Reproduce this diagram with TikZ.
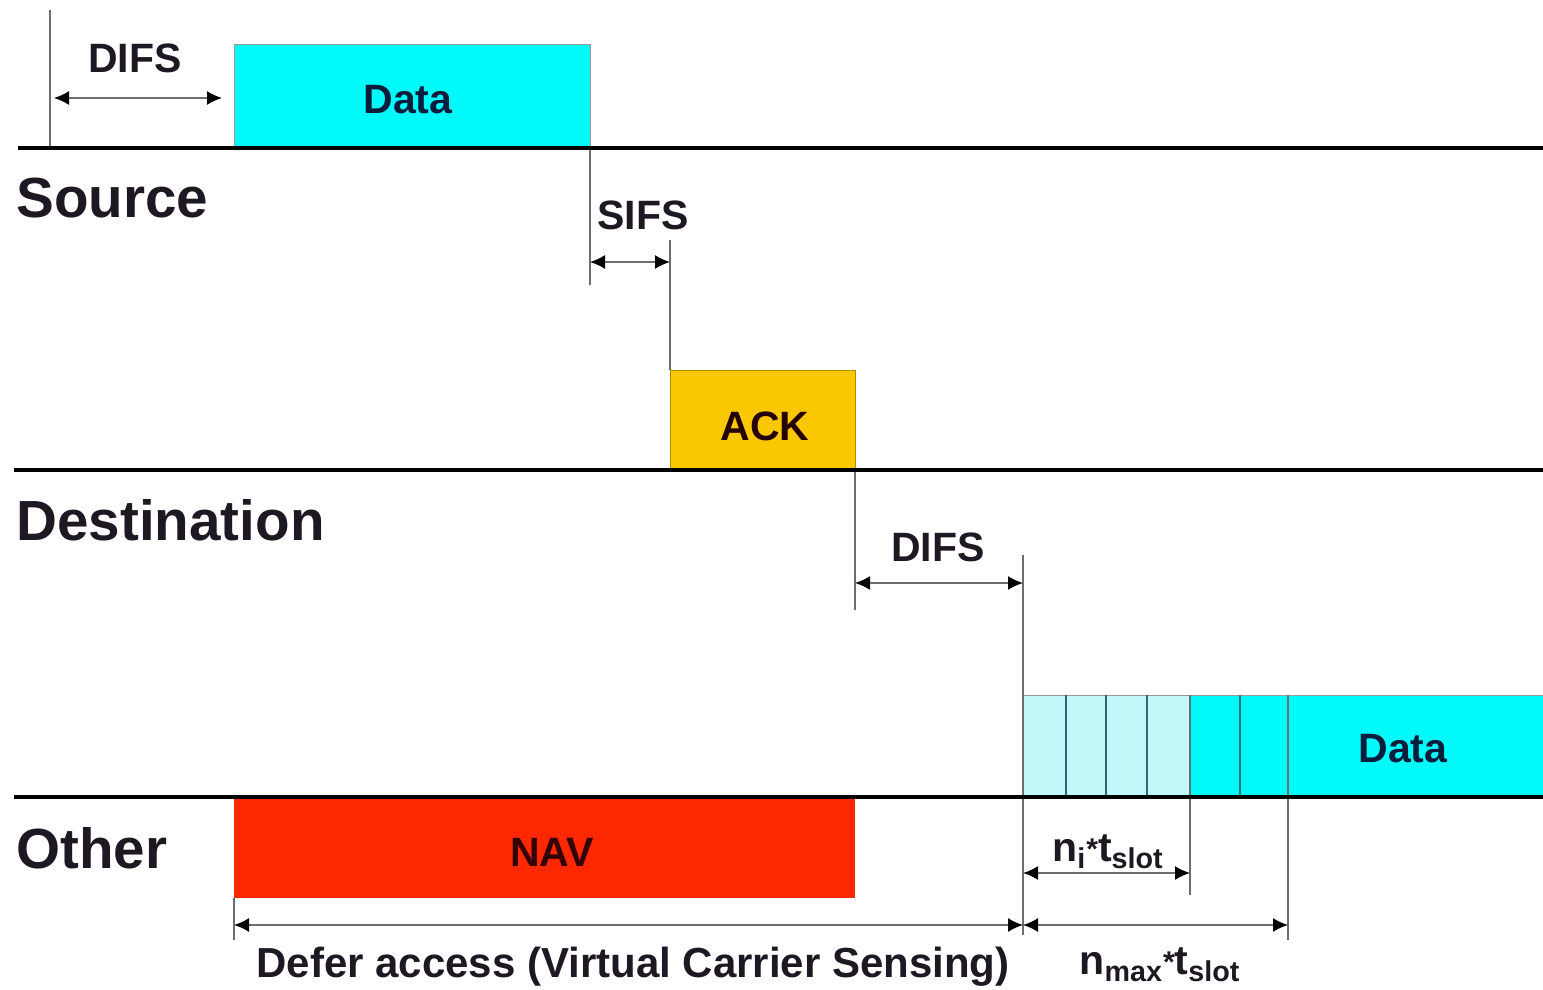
\documentclass[tikz,border=0pt]{standalone}
\usepackage{fontspec}
\setmainfont{Liberation Sans}
\usetikzlibrary{arrows.meta}
\definecolor{txt}{RGB}{30,24,34}
\definecolor{navytxt}{RGB}{10,30,60}
\definecolor{cyanfill}{RGB}{0,250,250}
\definecolor{lightcyan}{RGB}{195,248,250}
\definecolor{slotline}{RGB}{40,110,120}
\definecolor{ackfill}{RGB}{250,200,0}
\definecolor{navfill}{RGB}{255,40,0}
\definecolor{tick}{RGB}{110,110,110}
\newcommand{\slotstar}{\raisebox{0.1ex}{\fontsize{15}{15}\selectfont *}}
\tikzset{
  timeline/.style={line width=2pt, black},
  ticks/.style={line width=0.7pt, tick},
  span/.style={line width=0.8pt, tick, {Latex[length=7.5pt,width=7pt,black]}-{Latex[length=7.5pt,width=7pt,black]}},
  small/.style={font=\fontsize{20.5}{24}\selectfont\bfseries, text=txt, inner sep=0pt},
  station/.style={font=\fontsize{28.3}{33}\selectfont\bfseries, text=txt, inner sep=0pt, anchor=west},
  boxedge/.style={draw=tick!70, line width=0.5pt},
}
\begin{document}
\begin{tikzpicture}[x=0.5pt, y=-0.5pt]
\useasboundingbox (0,0) rectangle (1543,990);

% ---- frames ----
\fill[cyanfill] (234,45) rectangle (590,148);
\draw[boxedge] (234,148) -- (234,45) -- (590,45) -- (590,148);
\node[small, text=navytxt] (data1) at (408,100) {Data};

\fill[ackfill] (670,370) rectangle (855,470);
\draw[draw=ackfill!70!black, line width=0.5pt] (670,470) -- (670,370) -- (855,370) -- (855,470);
\node[small, text=black!85!red] (ack) at (765,426) {ACK};

\fill[navfill] (234,797) rectangle (855,898);
\node[small, text=black!80!red] (nav) at (552,852) {NAV};

% contention window and second data frame
\fill[lightcyan] (1023,695) rectangle (1190,797);
\fill[cyanfill] (1190,695) rectangle (1543,797);
\draw[boxedge] (1023,695) -- (1543,695);
\foreach \sx in {1066,1106,1147,1240}
  \draw[slotline, line width=0.6pt] (\sx,695) -- (\sx,797);
\node[small, text=navytxt] (data2) at (1403,749) {Data};

% ---- vertical markers ----
\coordinate (d1a) at (50,98);   \coordinate (d1b) at (234,98);
\coordinate (s1a) at (590,262); \coordinate (s1b) at (670,262);
\coordinate (d2a) at (855,583); \coordinate (d2b) at (1023,583);
\coordinate (nia) at (1023,873); \coordinate (nib) at (1190,873);
\coordinate (dfa) at (234,925); \coordinate (dfb) at (1023,925);
\coordinate (nma) at (1023,925); \coordinate (nmb) at (1288,925);

\draw[ticks] (50,10) -- (50,148);
\draw[ticks] (590,148) -- (590,285);
\draw[ticks] (670,240) -- (670,370);
\draw[ticks] (855,470) -- (855,610);
\draw[ticks] (1023,555) -- (1023,935);
\draw[ticks] (1190,695) -- (1190,895);
\draw[ticks] (1288,695) -- (1288,940);
\draw[ticks] (234,898) -- (234,940);

% ---- time lines ----
\draw[timeline] (18,148) -- (1543,148);
\draw[timeline] (14,470) -- (1543,470);
\draw[timeline] (14,797) -- (1543,797);

% ---- spans ----
\draw[span] ([xshift=2pt]d1a) -- ([xshift=-6pt]d1b);
\node[small] (difs1) at (135,58) {DIFS};

\draw[span] (s1a) -- (s1b);
\node[small] (sifs) at (643,215) {SIFS};

\draw[span] (d2a) -- (d2b);
\node[small] (difs2) at (938,547) {DIFS};

\draw[span] (nia) -- (nib);
\node[small] (ni) at (1108,852) {n\textsubscript{i}\slotstar t\textsubscript{slot}};

\draw[span] (dfa) -- (dfb);
\node[small, font=\fontsize{21}{24}\selectfont\bfseries] (defer) at (633,967) {Defer access (Virtual Carrier Sensing)};

\draw[span] (nma) -- (nmb);
\node[small] (nmax) at (1160,965) {n\textsubscript{max}\slotstar t\textsubscript{slot}};

% ---- stations ----
\node[station] (src) at (16,198) {Source};
\node[station] (dst) at (16,520) {Destination};
\node[station] (oth) at (16,848) {Other};
\end{tikzpicture}
\end{document}
